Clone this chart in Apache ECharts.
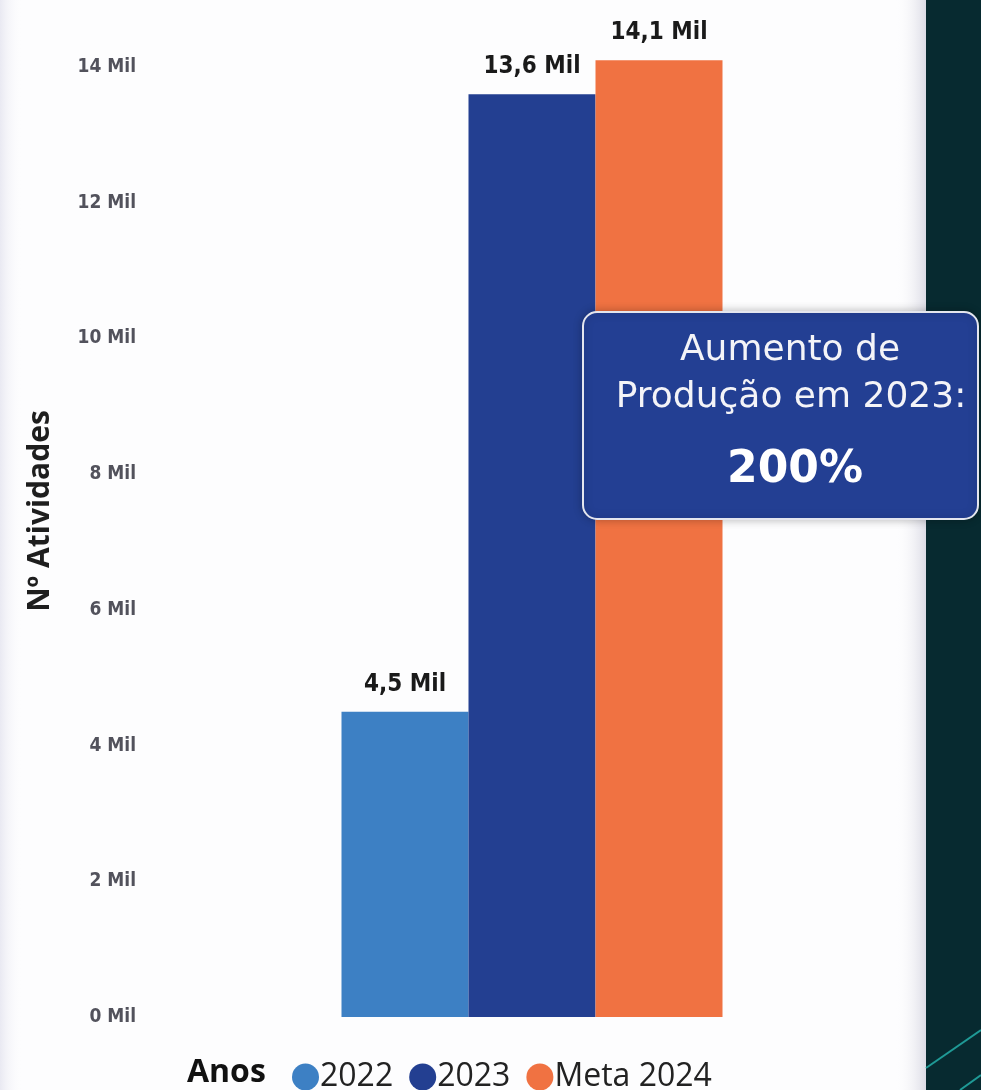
<!DOCTYPE html>
<html>
<head>
<meta charset="utf-8">
<script src="https://cdn.jsdelivr.net/npm/echarts@6/dist/echarts.min.js"></script>
<style>
html,body{margin:0;padding:0;background:#fdfdfe;}
#c{width:981px;height:1090px;}
</style>
</head>
<body>
<div id="c"></div>
<script>
const categories = ['Anos'];
const seriesNames = ['2022', '2023', 'Meta 2024'];
const values2022 = [4500];
const values2023 = [13600];
const valuesMeta2024 = [14100];
const seriesColors = ['#3d80c4', '#233f91', '#f07242'];
const yMin = 0, yMax = 14000, yInterval = 2000;
const yAxisTitle = 'Nº Atividades';
const calloutLines = ['Aumento de', 'Produção em 2023:'];
const calloutValue = '200%';

const chart = echarts.init(document.getElementById('c'));
const seriesData = [values2022, values2023, valuesMeta2024];

const labelFmt = p => (p.value / 1000).toFixed(1).replace('.', ',') + ' Mil';

const option = {
  backgroundColor: '#fdfdfe',
  animation: false,
  title: {
    text: 'Anos', left: 187, top: 1057, padding: 0,
    textStyle: { fontFamily: 'Open Sans', fontWeight: 'bold', fontSize: 32, color: '#111' }
  },
  legend: {
    data: seriesNames, left: 292, top: 1061, icon: 'circle', padding: 0,
    itemWidth: 27, itemHeight: 27, itemGap: 16,
    textStyle: { fontFamily: 'Open Sans', fontSize: 32, color: '#222', padding: [0, 0, 0, -4] }
  },
  grid: { left: 150, right: 67, top: 67, bottom: 73 },
  xAxis: {
    type: 'category', data: categories,
    axisLine: { show: false }, axisTick: { show: false }, axisLabel: { show: false }
  },
  yAxis: {
    type: 'value', min: yMin, max: yMax, interval: yInterval,
    axisLine: { show: false }, axisTick: { show: false }, splitLine: { show: false },
    axisLabel: {
      margin: 14, formatter: v => (v / 1000) + ' Mil',
      fontFamily: 'DejaVu Sans Condensed', fontWeight: 'bold', fontSize: 19, color: '#52525c'
    }
  },
  series: seriesNames.map((name, i) => ({
    name, type: 'bar', data: seriesData[i], barWidth: 127, barGap: '0%', clip: false,
    itemStyle: { color: seriesColors[i] },
    label: {
      show: true, position: 'top', distance: 15, formatter: labelFmt,
      fontFamily: 'DejaVu Sans Condensed', fontWeight: 'bold', fontSize: 24, color: '#1a1a1a'
    }
  })),
  graphic: [
    { type: 'rect', z: -10, silent: true, shape: { x: 0, y: 0, width: 22, height: 1090 },
      style: { fill: new echarts.graphic.LinearGradient(0, 0, 1, 0, [{ offset: 0, color: '#e9e9f2' }, { offset: 1, color: 'rgba(253,253,254,0)' }]) } },
    { type: 'rect', z: -10, silent: true, shape: { x: 896, y: 0, width: 30, height: 1090 },
      style: { fill: new echarts.graphic.LinearGradient(0, 0, 1, 0, [{ offset: 0, color: 'rgba(253,253,254,0)' }, { offset: 1, color: '#dcdce6' }]) } },
    { type: 'rect', z: -5, silent: true, shape: { x: 926, y: 0, width: 55, height: 1090 },
      style: { fill: '#072a30' } },
    { type: 'line', z: -4, silent: true, shape: { x1: 926, y1: 1068, x2: 981, y2: 1030 },
      style: { stroke: '#1f9a96', lineWidth: 2 } },
    { type: 'line', z: -4, silent: true, shape: { x1: 960, y1: 1090, x2: 981, y2: 1075 },
      style: { stroke: '#1f9a96', lineWidth: 2 } },
    { type: 'text', z: 10, silent: true, x: 40, y: 511, rotation: Math.PI / 2,
      style: { text: yAxisTitle, fill: '#1e1e1e', font: 'bold 30px "Open Sans"', align: 'center', verticalAlign: 'middle' } },
    { type: 'rect', z: 100, silent: true, shape: { x: 583, y: 312, width: 395, height: 207, r: 14 },
      style: { fill: '#233f93', stroke: '#e4e6ee', lineWidth: 2, shadowBlur: 8, shadowColor: 'rgba(0,0,0,0.25)' } },
    { type: 'text', z: 101, silent: true, x: 790, y: 351,
      style: { text: calloutLines[0], fill: '#f4f4f8', font: '36px "DejaVu Sans"', align: 'center', verticalAlign: 'middle' } },
    { type: 'text', z: 101, silent: true, x: 791, y: 398,
      style: { text: calloutLines[1], fill: '#f4f4f8', font: '36px "DejaVu Sans"', align: 'center', verticalAlign: 'middle' } },
    { type: 'text', z: 101, silent: true, x: 795, y: 471,
      style: { text: calloutValue, fill: '#ffffff', font: 'bold 44px "DejaVu Sans"', align: 'center', verticalAlign: 'middle' } }
  ]
};
chart.setOption(option);
</script>
</body>
</html>
